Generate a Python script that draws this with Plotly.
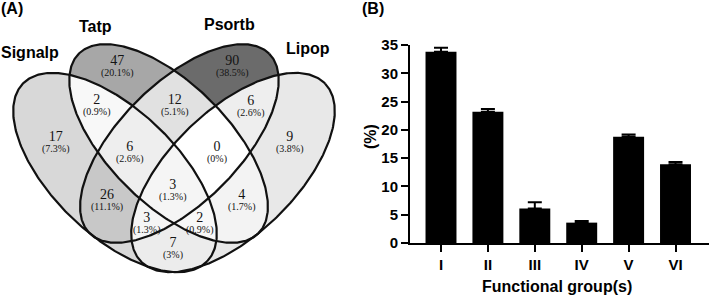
import numpy as np
import plotly.graph_objects as go

# ---------------- data ----------------
set_names = ["Signalp", "Tatp", "Psortb", "Lipop"]
# membership of each Venn region in (Signalp, Tatp, Psortb, Lipop)
region_sets = [(1, 0, 0, 0), (0, 1, 0, 0), (0, 0, 1, 0), (0, 0, 0, 1),
               (1, 1, 0, 0), (0, 1, 1, 0), (0, 0, 1, 1), (1, 0, 1, 0),
               (0, 1, 0, 1), (1, 0, 0, 1), (1, 1, 1, 0), (0, 1, 1, 1),
               (1, 0, 1, 1), (1, 1, 0, 1), (1, 1, 1, 1)]
region_counts = [17, 47, 90, 9, 2, 12, 6, 26, 4, 7, 6, 0, 3, 2, 3]
region_pcts = ["(7.3%)", "(20.1%)", "(38.5%)", "(3.8%)", "(0.9%)", "(5.1%)",
               "(2.6%)", "(11.1%)", "(1.7%)", "(3%)", "(2.6%)", "(0%)",
               "(1.3%)", "(0.9%)", "(1.3%)"]

groups = ["I", "II", "III", "IV", "V", "VI"]
group_pct = [33.8, 23.2, 6.1, 3.6, 18.8, 13.9]
group_err = [0.7, 0.5, 1.1, 0.3, 0.4, 0.4]

# ---------------- layout / geometry (pixel space, y down) ----------------
W, H = 709, 297
# ellipse shapes: cx, cy, a, b, angle(deg)
ellipses = [(115.0, 172.5, 128.0, 62.5, 44.0),     # Signalp
            (168.6, 143.5, 127.0, 60.0, 45.0),     # Tatp
            (179.4, 143.5, 127.0, 60.0, -45.0),    # Psortb
            (233.0, 172.5, 128.0, 62.5, -44.0)]    # Lipop
set_label_pos = [(30, 52), (95, 26), (229, 24), (308, 48)]
# label centres (count line) for each region, same order as region_sets
region_label_pos = [(56, 137), (117, 61), (232, 61), (290, 137),
                    (97, 100), (175, 100), (251, 101), (107, 195),
                    (242, 195), (173, 243), (130, 147), (217, 147),
                    (147, 218), (200, 218), (173, 185)]


def inside(e, X, Y):
    cx, cy, a, b, ang = e
    t = np.deg2rad(ang)
    dx, dy = X - cx, Y - cy
    m = dx * np.cos(t) + dy * np.sin(t)
    n = -dx * np.sin(t) + dy * np.cos(t)
    return (m / a) ** 2 + (n / b) ** 2 <= 1.0


def outline(e, k=361):
    cx, cy, a, b, ang = e
    t = np.deg2rad(ang)
    s = np.linspace(0, 2 * np.pi, k)
    x = cx + a * np.cos(t) * np.cos(s) - b * np.sin(t) * np.sin(s)
    y = cy + a * np.sin(t) * np.cos(s) + b * np.cos(t) * np.sin(s)
    return x, y


xs = np.arange(0.5, 350, 1.0)
ys = np.arange(30.5, 292, 1.0)
X, Y = np.meshgrid(xs, ys)
memb = [inside(e, X, Y).astype(int) for e in ellipses]
count_of = {s: c for s, c in zip(region_sets, region_counts)}
Z = np.full(X.shape, np.nan)
for s, c in count_of.items():
    mask = np.ones(X.shape, bool)
    for k in range(4):
        mask &= (memb[k] == s[k])
    Z[mask] = c ** 0.8
zmax = max(region_counts) ** 0.8

fig = go.Figure()
fig.add_trace(go.Heatmap(x=xs, y=ys, z=Z, zmin=0, zmax=zmax,
                         colorscale=[[0, "#ffffff"], [1, "#6b6b6b"]],
                         showscale=False, hoverinfo="skip", zsmooth=False,
                         xaxis="x", yaxis="y"))
for e in ellipses:
    ex, ey = outline(e)
    fig.add_trace(go.Scatter(x=ex, y=ey, mode="lines",
                             line=dict(color="#111111", width=2.2),
                             hoverinfo="skip", showlegend=False,
                             xaxis="x", yaxis="y"))

fig.add_trace(go.Bar(x=groups, y=group_pct, width=0.66,
                     marker=dict(color="black", line=dict(width=0)),
                     error_y=dict(type="data", array=group_err,
                                  arrayminus=[0] * len(group_err),
                                  symmetric=False, color="black",
                                  thickness=2, width=7),
                     showlegend=False, xaxis="x2", yaxis="y2"))

ann = []
lab_font = dict(family="Liberation Serif", size=8.8, color="#141414")
for (px, py), c, p in zip(region_label_pos, region_counts, region_pcts):
    txt = ("<span style='font-size:14px'>%d</span><br>"
           "<span style='font-size:10px'>%s</span>" % (c, p))
    ann.append(dict(x=px, y=py + 5, xref="x", yref="y", text=txt,
                    showarrow=False, font=lab_font,
                    xanchor="center", yanchor="middle"))
bold = dict(family="Liberation Sans", size=16, color="black", weight="bold")
for (px, py), name in zip(set_label_pos, set_names):
    ann.append(dict(x=px, y=py, xref="x", yref="y", text=name,
                    showarrow=False, font=bold,
                    xanchor="center", yanchor="middle"))
ann.append(dict(x=12, y=8, xref="x", yref="y", text="(A)", showarrow=False,
                font=bold, xanchor="center", yanchor="middle"))
ann.append(dict(x=373, y=8, xref="x", yref="y", text="(B)", showarrow=False,
                font=bold, xanchor="center", yanchor="middle"))
ann.append(dict(x=557, y=286, xref="x", yref="y", text="Functional group(s)",
                showarrow=False, font=bold,
                xanchor="center", yanchor="middle"))
ann.append(dict(x=370, y=137, xref="x", yref="y", text="(%)",
                showarrow=False, font=bold, textangle=-90,
                xanchor="center", yanchor="middle"))

tick_font = dict(family="Liberation Sans", size=15, color="black",
                 weight="bold")
fig.update_layout(
    template="none",
    width=W, height=H,
    margin=dict(l=0, r=0, t=0, b=0, pad=0, autoexpand=False),
    paper_bgcolor="white", plot_bgcolor="rgba(0,0,0,0)",
    showlegend=False, annotations=ann,
    xaxis=dict(domain=[0, 1], range=[0, W], visible=False, fixedrange=True,
               automargin=False),
    yaxis=dict(domain=[0, 1], range=[H, 0], visible=False, fixedrange=True,
               automargin=False),
    xaxis2=dict(domain=[410 / W, 1], anchor="y2", range=[-0.661, 5.714],
                showline=True, linecolor="black", linewidth=2,
                ticks="outside", ticklen=7, tickwidth=2, tickcolor="black",
                tickfont=tick_font, showgrid=False, zeroline=False,
                automargin=False, fixedrange=True),
    yaxis2=dict(domain=[(H - 243) / H, (H - 45) / H], anchor="x2",
                range=[0, 35], dtick=5, showline=True, linecolor="black",
                linewidth=2, ticks="outside", ticklen=7, tickwidth=2,
                tickcolor="black", tickfont=tick_font, showgrid=False,
                zeroline=False, automargin=False, fixedrange=True),
)

fig.write_html("out.html", config={"displayModeBar": False},
               post_script="document.body.style.margin='0';"
                           "document.body.style.overflow='hidden';")
